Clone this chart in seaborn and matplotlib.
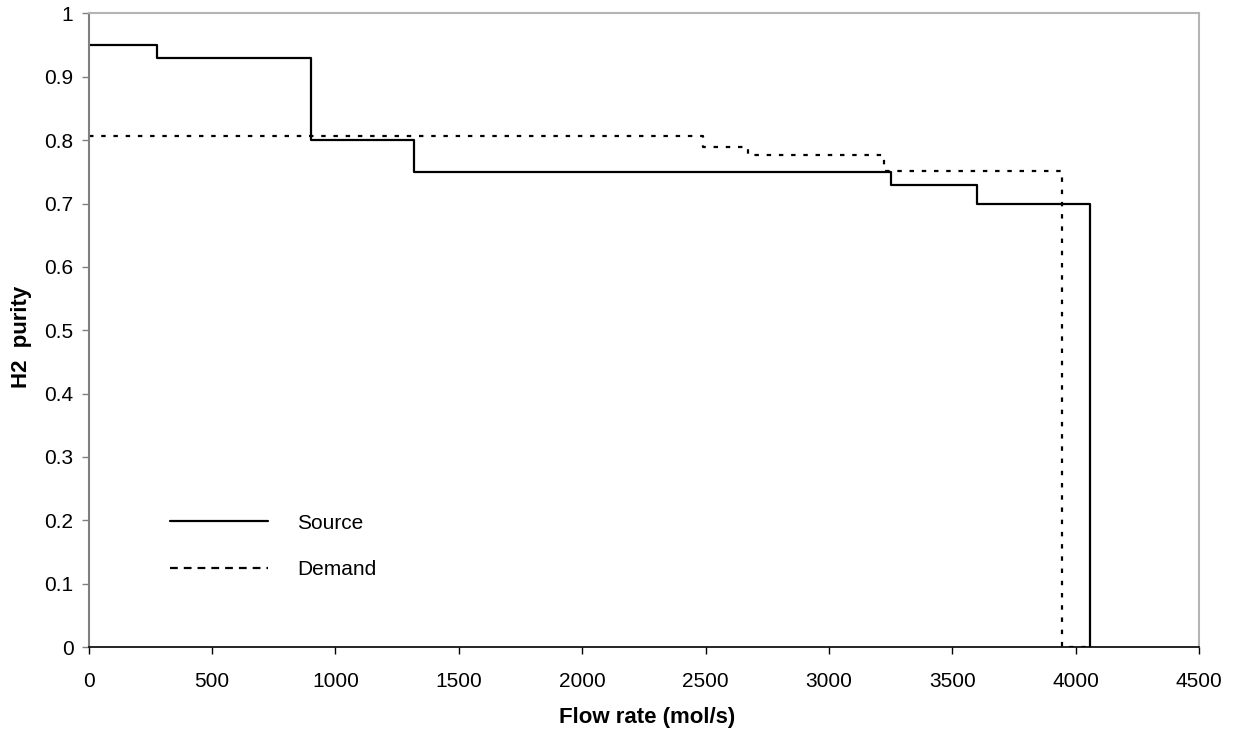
import matplotlib
matplotlib.use("Agg")
import matplotlib.pyplot as plt
import seaborn as sns
import pandas as pd

# Data (step curves: x = start of each step, y = level from that x on)
source_flow = [0, 276, 900, 1318, 3252, 3600, 4057]
source_purity = [0.95, 0.93, 0.80, 0.75, 0.73, 0.70, 0.0]
demand_flow = [0, 2490, 2672, 3225, 3945, 4057]
demand_purity = [0.807, 0.79, 0.777, 0.752, 0.0, 0.0]
x_ticks = [0, 500, 1000, 1500, 2000, 2500, 3000, 3500, 4000, 4500]
y_ticks = [0, 0.1, 0.2, 0.3, 0.4, 0.5, 0.6, 0.7, 0.8, 0.9, 1.0]
y_tick_labels = ["0", "0.1", "0.2", "0.3", "0.4", "0.5", "0.6", "0.7", "0.8", "0.9", "1"]

sns.set_style("white")
plt.rcParams["font.family"] = ["Liberation Sans", "DejaVu Sans"]
plt.rcParams["text.color"] = "black"
plt.rcParams["axes.labelcolor"] = "black"

fig = plt.figure(figsize=(12.34, 7.36), dpi=100)
ax = fig.add_axes([0.0719, 0.1209, 0.8997, 0.8608])

src = pd.DataFrame({"flow": source_flow, "purity": source_purity})
dem = pd.DataFrame({"flow": demand_flow, "purity": demand_purity})

sns.lineplot(data=src, x="flow", y="purity", ax=ax, drawstyle="steps-post",
             color="black", linewidth=1.6, label="Source", sort=False)
sns.lineplot(data=dem, x="flow", y="purity", ax=ax, drawstyle="steps-post",
             color="black", linewidth=1.6, label="Demand", sort=False,
             dashes=False)
ax.lines[1].set_dashes((2, 3.5))

ax.set_xlim(0, 4500)
ax.set_ylim(0, 1)
ax.set_xticks(x_ticks)
ax.set_xticklabels([str(v) for v in x_ticks])
ax.set_yticks(y_ticks)
ax.set_yticklabels(y_tick_labels)
ax.tick_params(axis="both", which="major", labelsize=15, direction="out",
               length=5, width=1, bottom=True, left=True)
ax.tick_params(axis="y", colors="#808080", labelcolor="black", pad=6)
ax.tick_params(axis="x", colors="black", labelcolor="black", pad=13)

for side in ["top", "right"]:
    ax.spines[side].set_visible(True)
    ax.spines[side].set_color("#b4b4b4")
    ax.spines[side].set_linewidth(1.5)
ax.spines["left"].set_color("#808080")
ax.spines["left"].set_linewidth(1.5)
ax.spines["bottom"].set_color("black")
ax.spines["bottom"].set_linewidth(1.2)

ax.set_xlabel("Flow rate (mol/s)", fontsize=16, fontweight="bold", color="black")
ax.set_ylabel("H2  purity", fontsize=16, fontweight="bold", color="black")
ax.xaxis.set_label_coords(0.503, -0.094)
ax.yaxis.set_label_coords(-0.051, 0.49)

leg = ax.legend(loc="center left", bbox_to_anchor=(0.073, 0.159), frameon=False,
                fontsize=15, handlelength=4.7, handletextpad=1.4,
                labelspacing=1.3, borderpad=0, borderaxespad=0,
                labelcolor="black")
leg.get_lines()[1].set_dashes((3.5, 2.7))

fig.savefig("out.png", dpi=100)
